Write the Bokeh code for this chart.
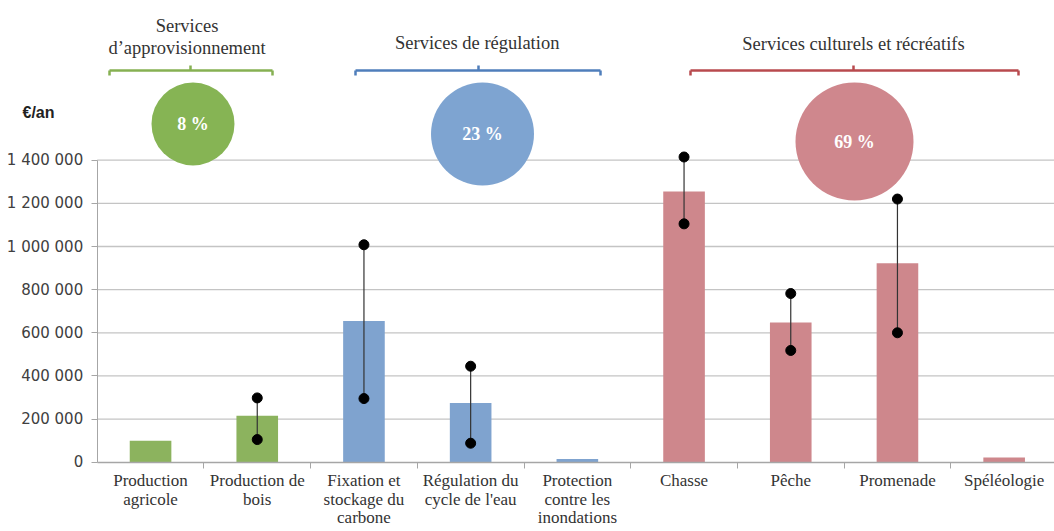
from bokeh.plotting import figure
from bokeh.models import Range1d, FixedTicker
from bokeh.core.properties import value
from bokeh.embed import file_html
from bokeh.resources import INLINE

# ---------------- data ----------------
categories = ["Production\nagricole", "Production de\nbois", "Fixation et\nstockage du\ncarbone",
              "Régulation du\ncycle de l'eau", "Protection\ncontre les\ninondations",
              "Chasse", "Pêche", "Promenade", "Spéléologie"]
values = [100000, 215000, 655000, 275000, 15000, 1255000, 648000, 922000, 22000]
groups = [0, 0, 1, 1, 1, 2, 2, 2, 2]
err_low = [None, 105000, 295000, 88000, None, 1105000, 518000, 600000, None]
err_high = [None, 298000, 1008000, 445000, None, 1415000, 782000, 1220000, None]

group_names = ["Services\nd\u2019approvisionnement", "Services de régulation", "Services culturels et récréatifs"]
group_shares = ["8 %", "23 %", "69 %"]

y_ticks = [0, 200000, 400000, 600000, 800000, 1000000, 1200000, 1400000]
y_tick_labels = ["0", "200 000", "400 000", "600 000", "800 000", "1 000 000", "1 200 000", "1 400 000"]
y_unit = "€/an"

# ---------------- styles / layout ----------------
bar_colors = ["#8CB35E", "#7FA3CF", "#CE878C"]
bracket_colors = ["#86B052", "#4F7EBB", "#B84A4E"]
circle_colors = ["#86B454", "#7EA4D1", "#CF878D"]
TEXT = "#333333"
SERIF = "Liberation Serif"

W, H = 1054, 531
AX_X, AX_Y = 96.7, 461.7     # pixel position of the axes origin
PX_X = 106.7                 # px per category
PX_Y = 215.7e-6              # px per euro


def dx(px):
    return (px - AX_X) / PX_X


def dy(py):
    return (AX_Y - py) / PX_Y


X_START, X_END = dx(0), dx(W)
Y_START, Y_END = dy(H), dy(0)

# decoration layout (pixel positions)
circle_px = [192.5, 482, 854]
circle_py = [123.5, 133.5, 141]
circle_r = [41.5, 51.5, 59]
header_px = [186.5, 476.7, 853]
header_py = [36, 42, 43]
bracket_px0 = [109, 355, 690]
bracket_px1 = [272, 600, 1018]
bracket_pxc = [190, 478, 853]
bracket_py = 70
unit_px, unit_py = 22, 112

xs = [i + 0.5 for i in range(len(categories))]

p = figure(width=W, height=H, output_backend="svg", toolbar_location=None,
           x_range=Range1d(X_START, X_END), y_range=Range1d(Y_START, Y_END),
           min_border=0)
p.outline_line_color = None
p.background_fill_color = "white"
p.xgrid.grid_line_color = None
p.ygrid.grid_line_color = None

# horizontal gridlines (from the axis to the right edge)
gy = y_ticks[1:]
p.segment(x0=[0] * len(gy), y0=gy, x1=[X_END] * len(gy), y1=gy,
          line_color="#C4C4C4", line_width=1.3)

# bars
p.vbar(x=xs, top=values, width=0.39, color=[bar_colors[g] for g in groups], line_color=None)

# error bars
ex = [x for x, lo in zip(xs, err_low) if lo is not None]
elo = [lo for lo in err_low if lo is not None]
ehi = [hi for hi in err_high if hi is not None]
p.segment(x0=ex, y0=elo, x1=ex, y1=ehi, line_color="#333333", line_width=1.2)
p.scatter(x=ex + ex, y=elo + ehi, size=10, color="black")

# brackets
for i in range(3):
    c = bracket_colors[i]
    x0, x1, xc = dx(bracket_px0[i]), dx(bracket_px1[i]), dx(bracket_pxc[i])
    yb = dy(bracket_py)
    p.segment(x0=[x0, x0, x1, xc], y0=[yb, yb, yb, yb],
              x1=[x1, x0, x1, xc], y1=[yb, dy(bracket_py + 5), dy(bracket_py + 5), dy(bracket_py - 5)],
              line_color=c, line_width=2.5)

# circles
cxs = [dx(v) for v in circle_px]
cys = [dy(v) for v in circle_py]
p.circle(x=cxs, y=cys, radius=circle_r, radius_units="screen", color=circle_colors, line_color=None)
p.text(x=cxs, y=cys, text=group_shares, text_color="white",
       text_font=value(SERIF), text_font_style="bold", text_font_size="18px",
       text_align="center", text_baseline="middle")

# group headers
p.text(x=[dx(v) for v in header_px], y=[dy(v) for v in header_py], text=group_names,
       text_color=TEXT, text_font=value(SERIF), text_font_size="18.5px", text_line_height=1.1,
       text_align="center", text_baseline="middle")

# unit label
p.text(x=[dx(unit_px)], y=[dy(unit_py)], text=[y_unit], text_color="#222222",
       text_font=value("Liberation Sans"), text_font_style="bold", text_font_size="16px",
       text_align="left", text_baseline="middle")

# y axis (floating at x = 0)
ya = p.yaxis[0]
ya.fixed_location = 0
ya.ticker = FixedTicker(ticks=y_ticks)
ya.major_label_overrides = dict(zip(y_ticks, y_tick_labels))
ya.bounds = (0, y_ticks[-1])
ya.axis_line_color = "#A6A6A6"
ya.major_tick_line_color = "#A6A6A6"
ya.major_tick_out = 6
ya.major_tick_in = 0
ya.minor_tick_line_color = None
ya.major_label_text_font = "DejaVu Sans"
ya.major_label_text_font_size = "15px"
ya.major_label_text_color = "#404040"
ya.major_label_standoff = 8

# x axis (floating at y = 0)
xa = p.xaxis[0]
xa.fixed_location = 0
xa.bounds = (0, X_END)
xa.ticker = FixedTicker(ticks=xs, minor_ticks=list(range(1, len(categories) + 1)))
xa.major_label_overrides = dict(zip(xs, categories))
xa.axis_line_color = "#A6A6A6"
xa.axis_line_width = 1.3
xa.major_tick_line_color = None
xa.major_tick_out = 0
xa.major_tick_in = 0
xa.minor_tick_line_color = "#A6A6A6"
xa.minor_tick_out = 6
xa.minor_tick_in = 0
xa.major_label_text_font = SERIF
xa.major_label_text_font_size = "17px"
xa.major_label_text_line_height = 0.98
xa.major_label_text_color = TEXT
xa.major_label_standoff = 3

open("out.html", "w").write(file_html(p, INLINE))
